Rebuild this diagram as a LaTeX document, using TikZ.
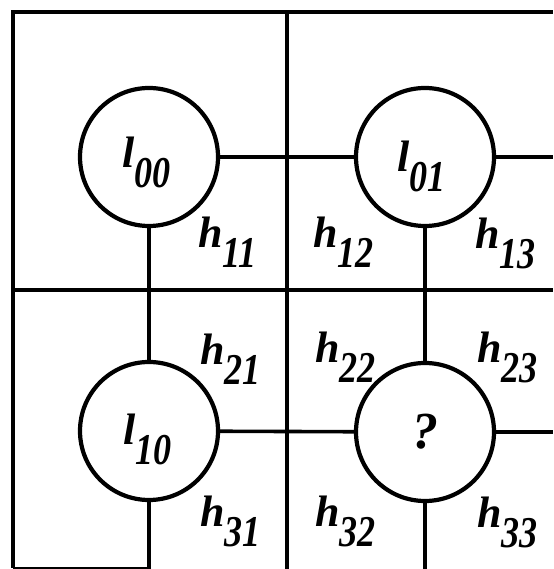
\documentclass[tikz,border=0pt]{standalone}
\usepackage{fontspec}
\setmainfont{Liberation Serif}
\usepackage{graphicx}
\newcommand{\symlab}[2]{{\fontsize{44}{44}\selectfont\bfseries\itshape #1\raisebox{-20pt}{\scalebox{0.82}[1]{#2}}}}
\begin{document}
\begin{tikzpicture}[x=1pt,y=1pt,
  frame/.style={line width=4pt},
  link/.style={line width=3.6pt},
  cell/.style={circle,draw,line width=4.2pt,minimum size=138pt,inner sep=0pt,
    font=\fontsize{52}{52}\selectfont\bfseries\itshape},
  lab/.style={inner sep=0pt,anchor=base west}]
\useasboundingbox (0,0) rectangle (553,569);
% grid
\coordinate (bl) at (13,1);
\coordinate (tl) at (13,557);
\coordinate (tr) at (553,557);
\coordinate (vt) at (287,557);
\coordinate (vb) at (287,0);
\coordinate (hl) at (13,279);
\coordinate (hr) at (553,279);
\coordinate (bm) at (150,1);
\draw[frame,line join=miter] (bl) -- (tl) -- (tr);
\draw[frame] (vt) -- (vb);
\draw[frame] (hl) -- (hr);
\draw[line width=2pt] (bl) -- (bm);
% cells
\node[cell] (c00) at (149,412) {};
\node[cell] (c01) at (425,412) {};
\node[cell] (c10) at (149,138) {};
\node[cell] (c11) at (425,137) {?};
% free ends
\coordinate (e01) at (553,412);
\coordinate (e11) at (553,137);
\coordinate (e10) at (149,0);
\coordinate (f11) at (425,0);
% connectors
\draw[link] (c00) -- (c01);
\draw[link] (c00) -- (c10);
\draw[link] (c01) -- (c11);
\draw[link] (c10) -- (c11);
\draw[link] (c01) -- (e01);
\draw[link] (c11) -- (e11);
\draw[link] (c10) -- (e10);
\draw[link] (c11) -- (f11);
% cell labels
\node[lab] (l00) at (122,401) {\symlab{l}{00}};
\node[lab] (l01) at (397,397) {\symlab{l}{01}};
\node[lab] (l10) at (123,124) {\symlab{l}{10}};
% h labels
\node[lab] (h11) at (198,321) {\symlab{h}{11}};
\node[lab] (h12) at (313,321) {\symlab{h}{12}};
\node[lab] (h13) at (475,320) {\symlab{h}{13}};
\node[lab] (h21) at (200,204) {\symlab{h}{21}};
\node[lab] (h22) at (315,206) {\symlab{h}{22}};
\node[lab] (h23) at (477,206) {\symlab{h}{23}};
\node[lab] (h31) at (200,42) {\symlab{h}{31}};
\node[lab] (h32) at (315,42) {\symlab{h}{32}};
\node[lab] (h33) at (477,41) {\symlab{h}{33}};
\end{tikzpicture}
\end{document}
